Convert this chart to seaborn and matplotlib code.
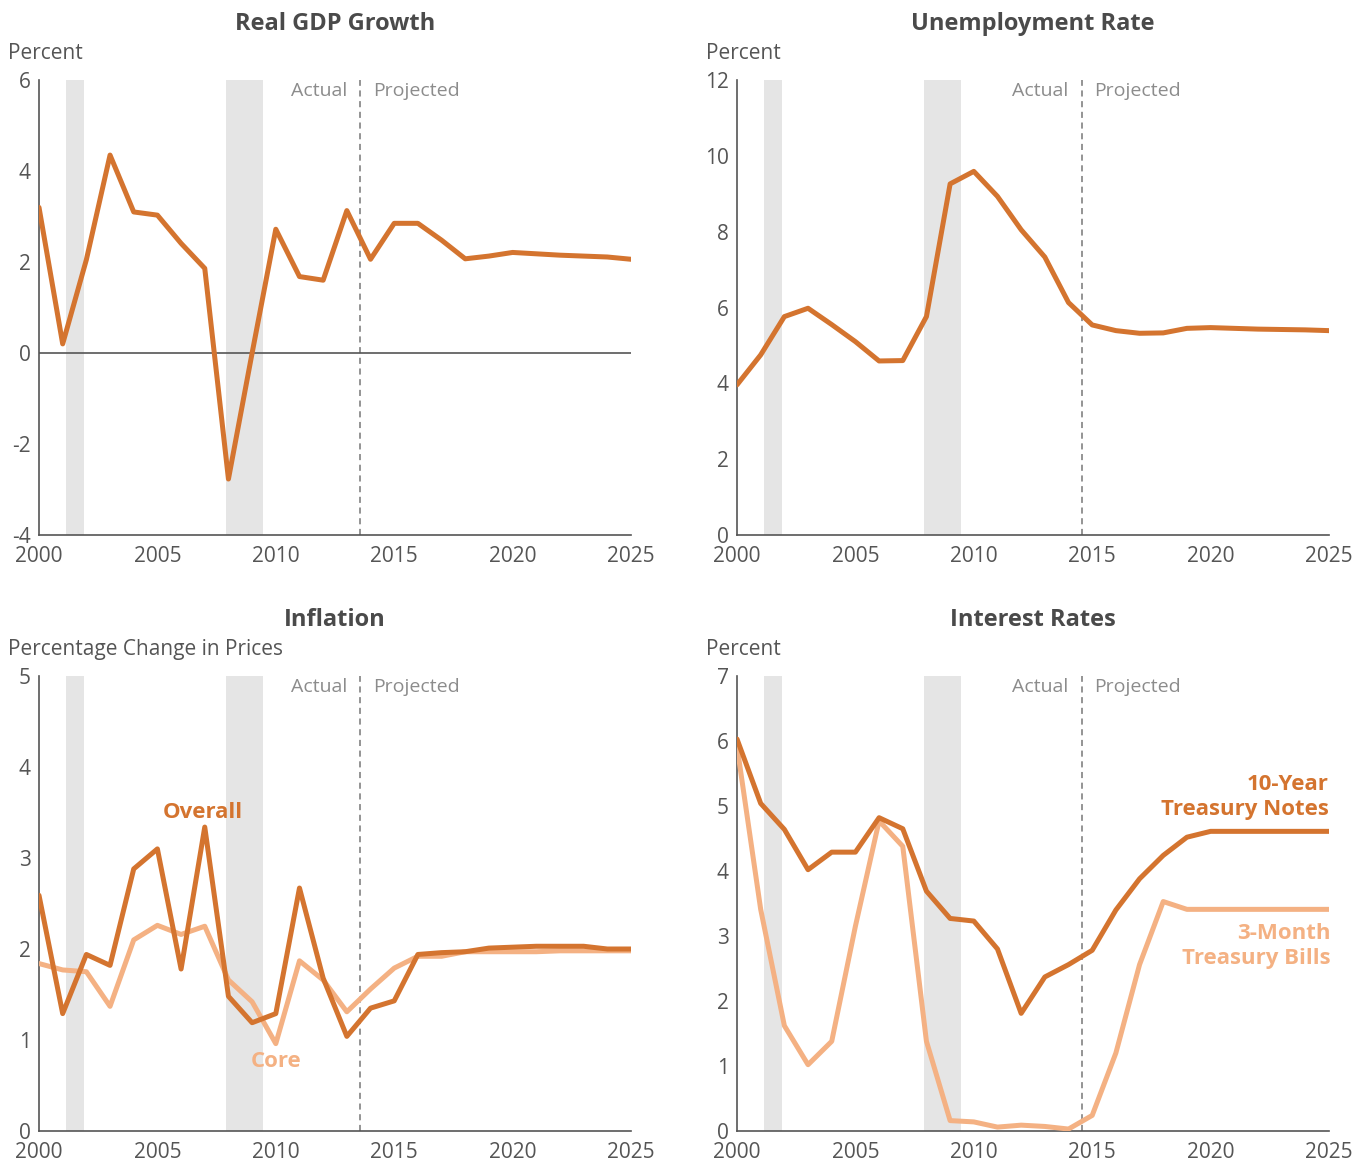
import numpy as np
import pandas as pd
import seaborn as sns
import matplotlib.pyplot as plt
from matplotlib import font_manager

# years shown in every panel
years = list(range(2000, 2026))

# Real GDP growth, percent
gdp = [3.2, 0.2, 2.05, 4.35, 3.1, 3.03, 2.41, 1.86, -2.77, 0.0, 2.72, 1.68, 1.6,
       3.13, 2.06, 2.85, 2.85, 2.48, 2.07, 2.13, 2.21, 2.18, 2.15, 2.13, 2.11, 2.06]

# unemployment rate, percent
unemp = [3.96, 4.75, 5.76, 5.98, 5.55, 5.1, 4.59, 4.6, 5.76, 9.26, 9.59, 8.93, 8.05,
         7.33, 6.13, 5.54, 5.39, 5.32, 5.33, 5.45, 5.47, 5.45, 5.43, 5.42, 5.41, 5.39]

# inflation, percentage change in prices
overall = [2.59, 1.29, 1.94, 1.82, 2.88, 3.1, 1.78, 3.34, 1.48, 1.19, 1.29, 2.67, 1.68,
           1.04, 1.35, 1.43, 1.94, 1.96, 1.97, 2.01, 2.02, 2.03, 2.03, 2.03, 2.0, 2.0]
core = [1.84, 1.77, 1.75, 1.37, 2.1, 2.26, 2.16, 2.25, 1.66, 1.42, 0.96, 1.87, 1.66,
        1.31, 1.56, 1.79, 1.92, 1.92, 1.97, 1.97, 1.97, 1.97, 1.98, 1.98, 1.98, 1.98]

# interest rates, percent
notes_10y = [6.03, 5.04, 4.64, 4.02, 4.29, 4.29, 4.82, 4.65, 3.69, 3.27, 3.23, 2.8, 1.81,
             2.37, 2.56, 2.78, 3.4, 3.88, 4.24, 4.52, 4.61, 4.61, 4.61, 4.61, 4.61, 4.61]
bills_3m = [5.92, 3.41, 1.62, 1.02, 1.38, 3.15, 4.77, 4.38, 1.38, 0.16, 0.14, 0.06, 0.09,
            0.07, 0.03, 0.24, 1.2, 2.56, 3.53, 3.41, 3.41, 3.41, 3.41, 3.41, 3.41, 3.41]

# recessions (start, end) and the actual/projected split per panel
recessions = [(2001.15, 2001.9), (2007.9, 2009.47)]
split_left = 2013.55
split_right = 2014.55

dark = '#D4742F'
light = '#F4B183'
grey_txt = '#555555'

sns.set_theme(style='white')
fams = [f for f in ['Liberation Sans Narrow', 'Open Sans'] if any(f == x.name for x in font_manager.fontManager.ttflist)]
plt.rcParams['font.family'] = fams + ['DejaVu Sans']
plt.rcParams['axes.unicode_minus'] = False

fig = plt.figure(figsize=(13.64, 11.67), dpi=100)
W, H = 1364, 1167


def make_ax(x0, y0, x1, y1):
    return fig.add_axes([x0 / W, 1 - y1 / H, (x1 - x0) / W, (y1 - y0) / H])


ax_gdp = make_ax(39, 80, 631, 535)
ax_un = make_ax(737, 80, 1329, 535)
ax_inf = make_ax(39, 676, 631, 1131)
ax_int = make_ax(737, 676, 1329, 1131)


def style(ax, title, ylab, ylim, yticks, split):
    for r0, r1 in recessions:
        ax.axvspan(r0, r1, color='#E5E5E5', lw=0, zorder=0)
    ax.axvline(split, color='#777777', lw=1.1, ls=(0, (4, 3)), zorder=1)
    top = ylim[1]
    yr = ylim[1] - ylim[0]
    ax.text(split - 0.55, top - 0.005 * yr, 'Actual', ha='right', va='top', fontsize=14, color='#8C8C8C')
    ax.text(split + 0.55, top - 0.005 * yr, 'Projected', ha='left', va='top', fontsize=14, color='#8C8C8C')
    ax.set_xlim(2000, 2025)
    ax.set_ylim(*ylim)
    ax.set_xticks([2000, 2005, 2010, 2015, 2020, 2025])
    ax.set_yticks(yticks)
    ax.tick_params(axis='both', direction='in', length=7, width=1, color='#555555',
                   labelsize=15, labelcolor=grey_txt, pad=6)
    ax.tick_params(axis='x', pad=8)
    for s in ['top', 'right']:
        ax.spines[s].set_visible(False)
    for s in ['left', 'bottom']:
        ax.spines[s].set_color('#555555')
        ax.spines[s].set_linewidth(1.2)
    ax.set_xlabel('')
    ax.set_ylabel('')
    ax.set_title(title, fontsize=17, fontweight='bold', color='#4A4A4A', pad=36)
    ax.text(-0.052, 1.035, ylab, transform=ax.transAxes, ha='left', va='bottom',
            fontsize=15, color=grey_txt)
    if ax.get_legend() is not None:
        ax.get_legend().remove()


lw = 3.6
sns.lineplot(x=years, y=gdp, ax=ax_gdp, color=dark, lw=lw, zorder=3)
ax_gdp.axhline(0, color='#555555', lw=1.2, zorder=2)
style(ax_gdp, 'Real GDP Growth', 'Percent', (-4, 6), [-4, -2, 0, 2, 4, 6], split_left)

sns.lineplot(x=years, y=unemp, ax=ax_un, color=dark, lw=lw, zorder=3)
style(ax_un, 'Unemployment Rate', 'Percent', (0, 12), [0, 2, 4, 6, 8, 10, 12], split_right)

inf_df = pd.DataFrame({'year': years * 2, 'value': overall + core,
                       'series': ['Overall'] * len(years) + ['Core'] * len(years)})
sns.lineplot(data=inf_df, x='year', y='value', hue='series', hue_order=['Core', 'Overall'],
             palette={'Overall': dark, 'Core': light}, lw=lw, ax=ax_inf, zorder=3)
style(ax_inf, 'Inflation', 'Percentage Change in Prices', (0, 5), [0, 1, 2, 3, 4, 5], split_left)
ax_inf.text(2006.9, 3.39, 'Overall', ha='center', va='bottom', fontsize=16, fontweight='bold', color=dark)
ax_inf.text(2010.0, 0.76, 'Core', ha='center', va='center', fontsize=16, fontweight='bold', color=light)

int_df = pd.DataFrame({'year': years * 2, 'value': notes_10y + bills_3m,
                       'series': ['10-Year Treasury Notes'] * len(years) + ['3-Month Treasury Bills'] * len(years)})
sns.lineplot(data=int_df, x='year', y='value', hue='series',
             hue_order=['3-Month Treasury Bills', '10-Year Treasury Notes'],
             palette={'10-Year Treasury Notes': dark, '3-Month Treasury Bills': light},
             lw=lw, ax=ax_int, zorder=3)
style(ax_int, 'Interest Rates', 'Percent', (0, 7), [0, 1, 2, 3, 4, 5, 6, 7], split_right)
ax_int.text(2025, 4.78, '10-Year\nTreasury Notes', ha='right', va='bottom', fontsize=16,
            fontweight='bold', color=dark, linespacing=1.25, clip_on=False)
ax_int.text(2025.05, 3.2, '3-Month\nTreasury Bills', ha='right', va='top', fontsize=16,
            fontweight='bold', color=light, linespacing=1.25, clip_on=False)

fig.savefig('out.png', dpi=100)
